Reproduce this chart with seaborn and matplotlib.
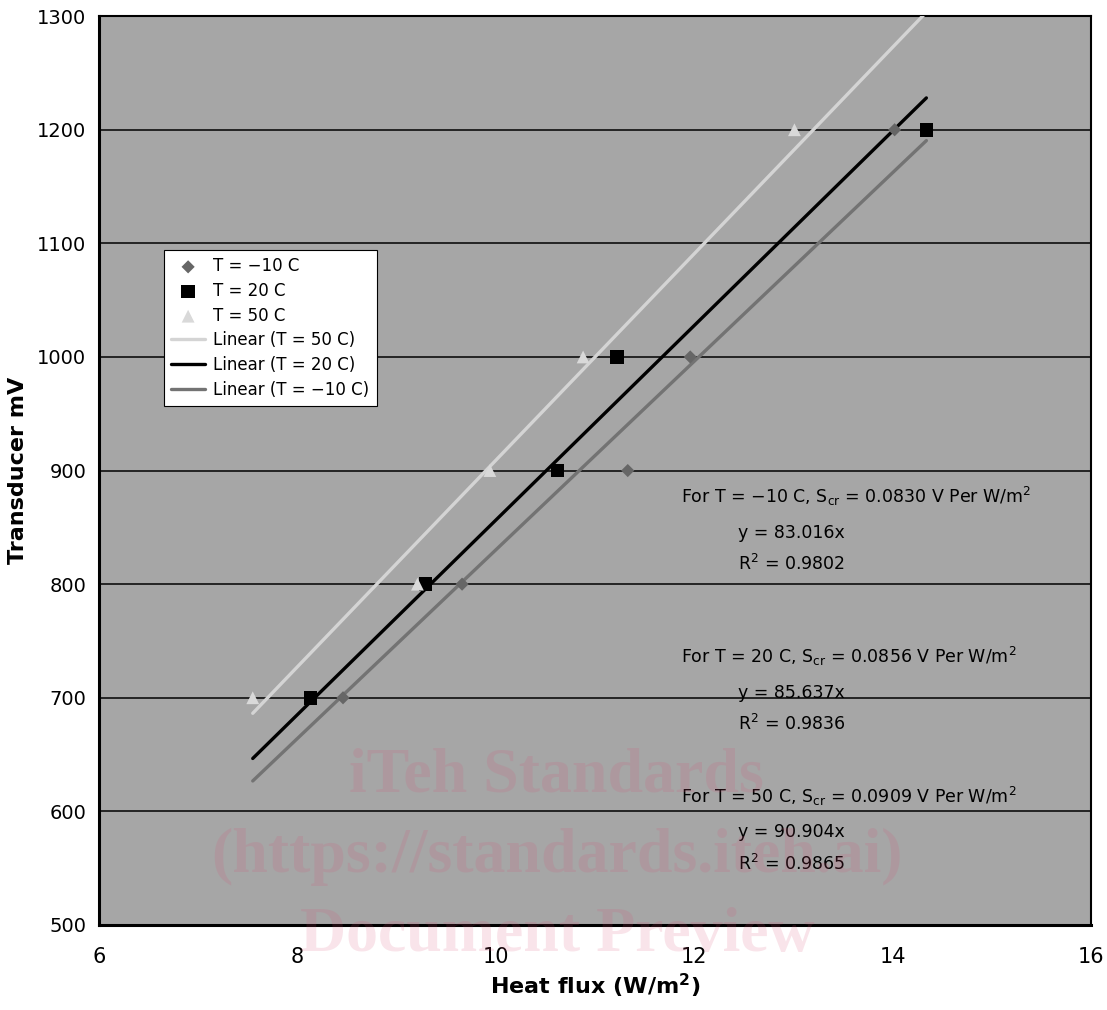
"""
Transducer output vs heat flux at three temperatures, with origin-forced trendlines.
"""
import numpy as np
import pandas as pd
import matplotlib.pyplot as plt
import seaborn as sns

sns.set_style("white")
plt.rcParams["font.family"] = ["DejaVu Sans"]
plt.rcParams["mathtext.default"] = "regular"
plt.rcParams["text.color"] = "black"
plt.rcParams["axes.labelcolor"] = "black"
plt.rcParams["xtick.color"] = "black"
plt.rcParams["ytick.color"] = "black"

# ---------------------------------------------------------------
# Data
# ---------------------------------------------------------------
mv_levels = [700, 800, 900, 1000, 1200]
flux_m10 = [8.46, 9.66, 11.33, 11.96, 14.02]
flux_20 = [8.13, 9.29, 10.62, 11.22, 14.34]
flux_50 = [7.55, 9.21, 9.94, 10.88, 13.01]

labels = ["T = \u221210 C", "T = 20 C", "T = 50 C"]
slopes = [83.016, 85.637, 90.904]
r2 = [0.9802, 0.9836, 0.9865]
sens = ["0.0830", "0.0856", "0.0909"]
markers = ["D", "s", "^"]
sizes = [45, 95, 85]
colors = ["#666666", "#000000", "#d9d9d9"]
line_colors = ["#737373", "#000000", "#d4d4d4"]

df = pd.DataFrame({
    "flux": flux_m10 + flux_20 + flux_50,
    "mv": mv_levels * 3,
    "series": np.repeat(labels, len(mv_levels)),
})

# ---------------------------------------------------------------
# Plot
# ---------------------------------------------------------------
fig = plt.figure(figsize=(11.07, 10.10), dpi=100)
ax = fig.add_axes([0.0894, 0.0842, 0.8962, 0.8998])
ax.set_facecolor("#a6a6a6")

for lab, m, s, c in zip(labels, markers, sizes, colors):
    sub = df[df["series"] == lab]
    sns.scatterplot(data=sub, x="flux", y="mv", marker=m, s=s, color=c,
                    edgecolor="none", label=lab, ax=ax, zorder=4)

# trendlines y = a*x over the full x range of the data
x_fit = np.array([df["flux"].min(), df["flux"].max()])
for i in [2, 1, 0]:
    sns.lineplot(x=x_fit, y=slopes[i] * x_fit, color=line_colors[i], lw=2.4,
                 label="Linear (%s)" % labels[i], ax=ax, zorder=3)

ax.set_xlim(6, 16)
ax.set_ylim(500, 1300)
ax.set_xticks(range(6, 17, 2))
ax.set_yticks(range(500, 1301, 100))
ax.grid(axis="y", color="#1a1a1a", lw=1.3)
ax.grid(axis="x", visible=False)
for sp in ax.spines.values():
    sp.set_color("black")
    sp.set_linewidth(1.5)
ax.spines["left"].set_linewidth(2.2)
ax.spines["bottom"].set_linewidth(2.2)
ax.tick_params(axis="both", direction="inout", length=8, width=1.2, color="black")
ax.tick_params(axis="y", labelsize=14, pad=5)
ax.tick_params(axis="x", labelsize=15, pad=12)

ax.set_xlabel("Heat flux (W/m$^{2}$)", fontsize=16, fontweight="bold")
ax.set_ylabel("Transducer mV", fontsize=16, fontweight="bold")
ax.xaxis.set_label_coords(0.5, -0.051)
ax.yaxis.set_label_coords(-0.072, 0.5)

leg = ax.legend(loc="upper left", bbox_to_anchor=(0.0655, 0.743), borderaxespad=0,
                fontsize=12, frameon=True, fancybox=False, framealpha=1,
                edgecolor="black", handlelength=2.0, handletextpad=0.5,
                labelspacing=0.4, borderpad=0.45)
leg.get_frame().set_linewidth(0.8)

# annotation blocks (heading, equation, R^2)
head_y = [877, 736, 613]
eq_y = [845, 704, 582]
r2_y = [818, 677, 554]
for i in range(3):
    ax.text(11.87, head_y[i], "For %s, S$_{cr}$ = %s V Per W/m$^{2}$" % (labels[i], sens[i]),
            fontsize=12.5, va="center", ha="left", zorder=5)
    ax.text(12.44, eq_y[i], "y = %.3fx" % slopes[i], fontsize=12.5,
            va="center", ha="left", zorder=5)
    ax.text(12.44, r2_y[i], "R$^{2}$ = %.4f" % r2[i], fontsize=12.5,
            va="center", ha="left", zorder=5)

# watermark
wm = ["iTeh Standards", "(https://standards.iteh.ai)", "Document Preview"]
for j, t in enumerate(wm):
    fig.text(0.503, 0.231 - j * 0.079, t, fontsize=46, fontweight="bold",
             family="Liberation Serif", color=(0.85, 0.3, 0.45), alpha=0.15,
             ha="center", va="center", zorder=10)

fig.savefig("out.png", dpi=100)
